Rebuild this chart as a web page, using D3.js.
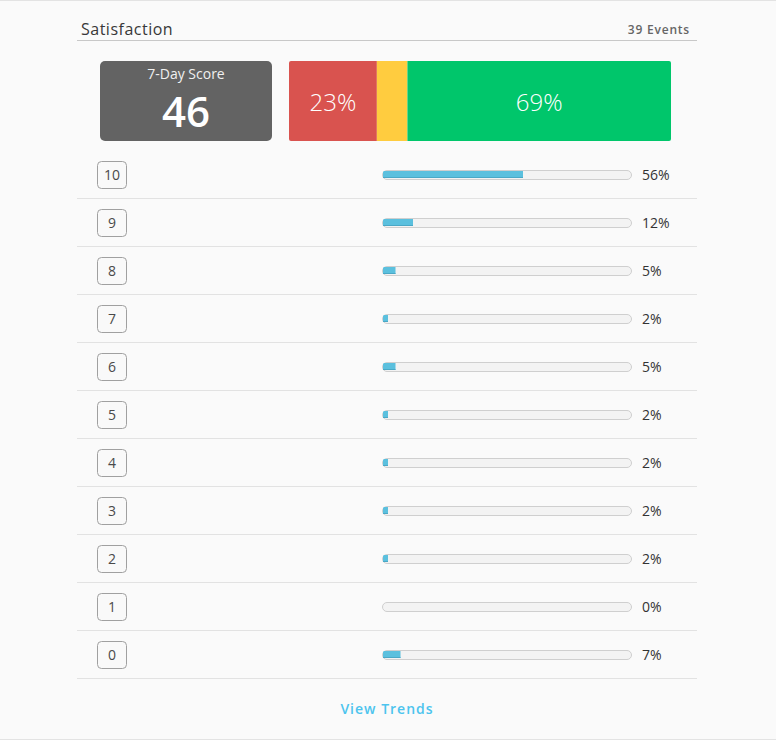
<!DOCTYPE html>
<html>
<head>
<meta charset="utf-8">
<script src="https://cdn.jsdelivr.net/npm/d3@7"></script>
<style>
  html, body { margin: 0; padding: 0; background: #fafafa; }
  svg { display: block; font-family: "Open Sans", "Noto Sans", sans-serif; }
</style>
</head>
<body>
<div id="chart"></div>
<script>
// Données
const title = "Satisfaction";
const eventsLabel = "39 Events";
const scoreLabel = "7-Day Score";
const score = 46;
const groupNames = ["Detractors", "Passives", "Promoters"];
const groupShares = [23, 8, 69];
const ratings = ["10", "9", "8", "7", "6", "5", "4", "3", "2", "1", "0"];
const ratingShares = [56, 12, 5, 2, 5, 2, 2, 2, 2, 0, 7];

const width = 776, height = 740;

const svg = d3.select("#chart")
    .append("svg")
    .attr("width", width)
    .attr("height", height);

svg.append("rect").attr("width", width).attr("height", height).attr("fill", "#fafafa");
svg.append("line").attr("x1", 0).attr("x2", width).attr("y1", 0.5).attr("y2", 0.5)
    .attr("stroke", "#e3e3e3");
svg.append("line").attr("x1", 0).attr("x2", width).attr("y1", 739.5).attr("y2", 739.5)
    .attr("stroke", "#e3e3e3");

// En-tête
svg.append("text").attr("x", 81).attr("y", 35)
    .text(title).style("font-size", "16px").style("font-weight", 500)
    .style("letter-spacing", "0.5px").style("fill", "#383838");
svg.append("text").attr("x", 690).attr("y", 34).attr("text-anchor", "end")
    .text(eventsLabel).style("font-size", "12px").style("font-weight", 600)
    .style("letter-spacing", "0.8px").style("fill", "#666");
svg.append("line").attr("x1", 77).attr("x2", 697).attr("y1", 40.5).attr("y2", 40.5)
    .attr("stroke", "#c8c8c8");

// Bloc du score
svg.append("rect").attr("x", 100).attr("y", 61).attr("width", 172).attr("height", 80)
    .attr("rx", 5).attr("fill", "#636363");
svg.append("text").attr("x", 186).attr("y", 79).attr("text-anchor", "middle")
    .text(scoreLabel).style("font-size", "14px").style("fill", "#f0f0f0");
svg.append("text").attr("x", 186).attr("y", 127).attr("text-anchor", "middle")
    .text(score).style("font-size", "42px").style("font-weight", 600).style("fill", "#fff");

// Barre empilée NPS
const stackX = d3.scaleLinear().domain([0, d3.sum(groupShares)]).range([289, 671]);
const stackColors = d3.scaleOrdinal().domain(groupNames).range(["#d9534f", "#ffcc3f", "#00c66b"]);
const starts = d3.cumsum([0].concat(groupShares));
const segs = groupNames.map((g, i) => ({ name: g, share: groupShares[i], x0: starts[i], x1: starts[i + 1] }));

const clip = svg.append("clipPath").attr("id", "stack-clip");
clip.append("rect").attr("x", stackX.range()[0]).attr("y", 61)
    .attr("width", stackX.range()[1] - stackX.range()[0]).attr("height", 80).attr("rx", 2);

const stack = svg.append("g").attr("clip-path", "url(#stack-clip)");
stack.selectAll("rect").data(segs).enter().append("rect")
    .attr("x", d => stackX(d.x0))
    .attr("y", 61)
    .attr("width", d => stackX(d.x1) - stackX(d.x0))
    .attr("height", 80)
    .attr("fill", d => stackColors(d.name));
svg.selectAll(".stack-label").data(segs.filter(d => d.share >= 15)).enter().append("text")
    .attr("class", "stack-label")
    .attr("x", d => (stackX(d.x0) + stackX(d.x1)) / 2)
    .attr("y", 111)
    .attr("text-anchor", "middle")
    .text(d => d.share + "%")
    .style("font-size", "24px").style("font-weight", 300).style("fill", "#fff");

// Lignes de notes
const rowY = d3.scaleBand().domain(ratings).range([151, 679]);
const barX = d3.scaleLinear().domain([0, 100]).range([382, 632]);

const rows = svg.selectAll(".row").data(ratings).enter().append("g")
    .attr("class", "row")
    .attr("transform", d => `translate(0, ${rowY(d)})`);

const bh = rowY.bandwidth();

rows.append("line").attr("x1", 77).attr("x2", 697)
    .attr("y1", bh - 0.5).attr("y2", bh - 0.5).attr("stroke", "#e2e2e2");

rows.append("rect").attr("x", 97.5).attr("y", bh / 2 - 13.5).attr("width", 29).attr("height", 27)
    .attr("rx", 4).attr("fill", "#f9f9f9").attr("stroke", "#a0a0a0");
rows.append("text").attr("x", 112).attr("y", bh / 2 + 5).attr("text-anchor", "middle")
    .text(d => d).style("font-size", "14px").style("fill", "#4a4a4a");

rows.append("rect").attr("x", barX(0) + 0.5).attr("y", bh / 2 - 4.5)
    .attr("width", barX(100) - barX(0) - 1).attr("height", 9).attr("rx", 4.5)
    .attr("fill", "#f3f3f3").attr("stroke", "#cfcfcf");

const fillClip = rows.append("clipPath").attr("id", (d, i) => "bar-clip-" + i);
fillClip.append("rect").attr("x", barX(0)).attr("y", bh / 2 - 5)
    .attr("width", barX(100) - barX(0)).attr("height", 10).attr("rx", 5);

rows.append("rect")
    .attr("clip-path", (d, i) => `url(#bar-clip-${i})`)
    .attr("x", barX(0) + 1).attr("y", bh / 2 - 4)
    .attr("width", (d, i) => Math.max(0, barX(ratingShares[i]) - barX(0)))
    .attr("height", 7).attr("fill", "#5bc0de");
rows.append("rect")
    .attr("clip-path", (d, i) => `url(#bar-clip-${i})`)
    .attr("x", barX(0) + 1).attr("y", bh / 2 + 2)
    .attr("width", (d, i) => Math.max(0, barX(ratingShares[i]) - barX(0)))
    .attr("height", 1).attr("fill", "#4aa8c6");

rows.append("text").attr("x", 642).attr("y", bh / 2 + 5)
    .text((d, i) => ratingShares[i] + "%").style("font-size", "14px").style("fill", "#333");

// Lien
svg.append("text").attr("x", 387).attr("y", 714).attr("text-anchor", "middle")
    .text("View Trends").style("font-size", "14px").style("font-weight", 600)
    .style("fill", "#4cc4ee").style("letter-spacing", "1px");
</script>
</body>
</html>
